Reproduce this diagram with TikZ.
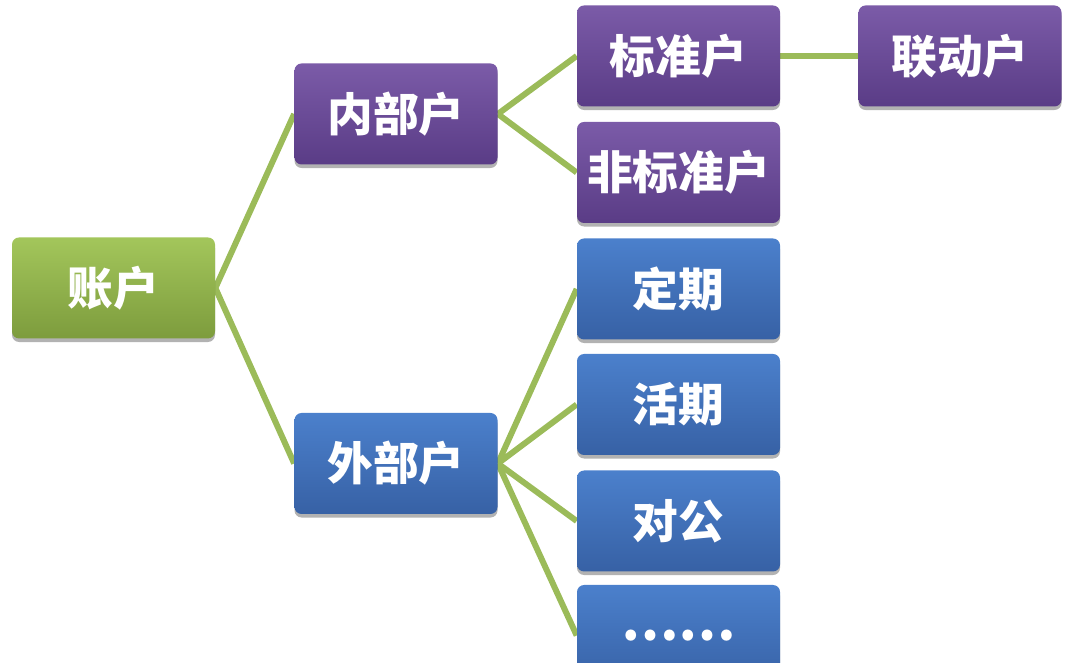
\documentclass[tikz,border=0pt]{standalone}
\usepackage{fontspec}
\usepackage{xcolor}
\newfontfamily\cjk[BoldFont={* Black}]{Noto Sans CJK SC}
\usetikzlibrary{shadows,backgrounds}

\definecolor{linkgreen}{HTML}{9BBB59}
\definecolor{grntop}{HTML}{A3C65B}
\definecolor{grnbot}{HTML}{7D9C3D}
\definecolor{purtop}{HTML}{7B5BA8}
\definecolor{purbot}{HTML}{5A3C86}
\definecolor{blutop}{HTML}{4B80CC}
\definecolor{blubot}{HTML}{3761A5}

\begin{document}
\begin{tikzpicture}[
  box/.style={rounded corners=4pt, minimum width=4.06cm, minimum height=2.02cm,
    text=white, font=\cjk\bfseries\fontsize{26}{26}\selectfont, inner sep=0pt,
    drop shadow={shadow xshift=0pt, shadow yshift=-2pt, opacity=0.3, fill=black}},
  grnbox/.style={box, top color=grntop, bottom color=grnbot},
  purbox/.style={box, top color=purtop, bottom color=purbot},
  blubox/.style={box, top color=blutop, bottom color=blubot},
  link/.style={draw=linkgreen, line width=3.4pt}]
\useasboundingbox (0,0) rectangle (21.6,13.26);
\clip (0,0) rectangle (21.6,13.26);
% ---- root ----
\node[grnbox] (acct) at (2.27,7.50) {账户};
% ---- level 1 ----
\node[purbox] (inner) at (7.92,10.98) {内部户};
\node[blubox] (outer) at (7.92,3.99) {外部户};
% ---- inner branch ----
\node[purbox] (std)    at (13.57,12.14) {标准户};
\node[purbox] (nonstd) at (13.57,9.81)  {非标准户};
\node[purbox] (linked) at (19.20,12.14) {联动户};
% ---- outer branch ----
\node[blubox] (fixed)   at (13.57,7.48) {定期};
\node[blubox] (current) at (13.57,5.17) {活期};
\node[blubox] (corp)    at (13.57,2.84) {对公};
\node[blubox, font=\cjk\bfseries\fontsize{29}{29}\selectfont] (more) at (13.57,0.55) {……};
% ---- connectors ----
\begin{pgfonlayer}{background}
\draw[link] (acct.east) -- (inner.west);
\draw[link] (acct.east) -- (outer.west);
\draw[link] (inner.east) -- (std.west);
\draw[link] (inner.east) -- (nonstd.west);
\draw[link] (std.east) -- (linked.west);
\foreach \kid in {fixed,current,corp,more}
  \draw[link] (outer.east) -- (\kid.west);
\end{pgfonlayer}
\end{tikzpicture}
\end{document}
